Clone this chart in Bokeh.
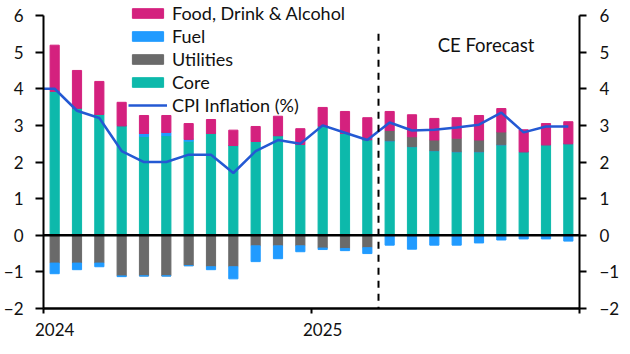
import numpy as np
from bokeh.plotting import figure
from bokeh.models import (Range1d, LinearAxis, FixedTicker, Span, Legend, LegendItem,
                          Label, ColumnDataSource)
from bokeh.embed import file_html
from bokeh.resources import INLINE

# ---------------- data ----------------
months = ["Jan-24", "Feb-24", "Mar-24", "Apr-24", "May-24", "Jun-24", "Jul-24", "Aug-24",
          "Sep-24", "Oct-24", "Nov-24", "Dec-24", "Jan-25", "Feb-25", "Mar-25", "Apr-25",
          "May-25", "Jun-25", "Jul-25", "Aug-25", "Sep-25", "Oct-25", "Nov-25", "Dec-25"]
core = [3.93, 3.47, 3.30, 2.99, 2.70, 2.72, 2.57, 2.78, 2.45, 2.56, 2.72, 2.48,
        2.98, 2.78, 2.61, 2.58, 2.42, 2.31, 2.28, 2.28, 2.47, 2.28, 2.47, 2.50]
utilities = [-0.76, -0.76, -0.76, -1.11, -1.11, -1.11, -0.83, -0.86, -0.86, -0.29, -0.29, -0.29,
             -0.35, -0.36, -0.34, 0.28, 0.27, 0.29, 0.37, 0.32, 0.35, 0.0, 0.0, 0.0]
fuel = [-0.29, -0.18, -0.10, -0.02, 0.08, 0.09, 0.05, -0.08, -0.33, -0.43, -0.35, -0.16,
        -0.04, -0.06, -0.16, -0.27, -0.38, -0.27, -0.27, -0.21, -0.13, -0.10, -0.10, -0.16]
food = [1.26, 1.03, 0.90, 0.64, 0.49, 0.46, 0.43, 0.38, 0.42, 0.41, 0.53, 0.43,
        0.51, 0.60, 0.60, 0.52, 0.60, 0.59, 0.56, 0.67, 0.64, 0.60, 0.58, 0.60]
# CPI inflation (%), Dec-23 then Jan-24 .. Dec-25
cpi = [4.0, 4.0, 3.4, 3.2, 2.3, 2.0, 2.0, 2.2, 2.2, 1.7, 2.3, 2.6, 2.5,
       3.0, 2.8, 2.6, 3.08, 2.86, 2.88, 2.94, 3.02, 3.35, 2.81, 2.97, 2.97]
year_labels = ["2024", "2025"]
forecast_start = 15  # forecast begins in Apr-25

# ---------------- styles ----------------
C_FOOD = "#D4217E"
C_FUEL = "#219BFF"
C_UTIL = "#6A6A6A"
C_CORE = "#0DB9AB"
C_CPI = "#2459D3"
FONT = "Lato"
FS = "17px"

n = len(months)
x = np.arange(n) + 0.5
core_a = np.array(core)
util_a = np.array(utilities)
fuel_a = np.array(fuel)
food_a = np.array(food)

fuel_pos = np.clip(fuel_a, 0, None)
fuel_neg = np.clip(fuel_a, None, 0)
util_pos = np.clip(util_a, 0, None)
util_neg = np.clip(util_a, None, 0)

b_core = np.zeros(n); t_core = core_a
b_fuelp = t_core; t_fuelp = b_fuelp + fuel_pos
b_utilp = t_fuelp; t_utilp = b_utilp + util_pos
b_food = t_utilp; t_food = b_food + food_a
t_utiln = np.zeros(n); b_utiln = util_neg
t_fueln = b_utiln; b_fueln = t_fueln + fuel_neg

src = ColumnDataSource(dict(x=x, b_core=b_core, t_core=t_core, b_fuelp=b_fuelp, t_fuelp=t_fuelp,
                            b_utilp=b_utilp, t_utilp=t_utilp, b_food=b_food, t_food=t_food,
                            b_utiln=b_utiln, t_utiln=t_utiln, b_fueln=b_fueln, t_fueln=t_fueln))

p = figure(width=630, height=354, output_backend="svg", toolbar_location=None,
           x_range=Range1d(0, n), y_range=Range1d(-2, 6.41),
           min_border_left=40, min_border_right=51, min_border_top=0, min_border_bottom=46)
p.outline_line_color = None
p.xgrid.visible = False
p.ygrid.visible = False
p.background_fill_color = "white"
p.border_fill_color = "white"

W = 0.41
r_core = p.vbar(x="x", bottom="b_core", top="t_core", width=W, color=C_CORE, source=src)
r_fuelp = p.vbar(x="x", bottom="b_fuelp", top="t_fuelp", width=W, color=C_FUEL, source=src)
r_utilp = p.vbar(x="x", bottom="b_utilp", top="t_utilp", width=W, color=C_UTIL, source=src)
r_food = p.vbar(x="x", bottom="b_food", top="t_food", width=W, color=C_FOOD, source=src)
r_utiln = p.vbar(x="x", bottom="b_utiln", top="t_utiln", width=W, color=C_UTIL, source=src)
r_fueln = p.vbar(x="x", bottom="b_fueln", top="t_fueln", width=W, color=C_FUEL, source=src)

cpi_x = np.arange(len(cpi)) - 0.5
r_cpi = p.line(cpi_x, cpi, line_color=C_CPI, line_width=2.5)

p.add_layout(Span(location=0, dimension="width", line_color="black", line_width=2.5))
p.segment(x0=[forecast_start], y0=[5.5], x1=[forecast_start], y1=[-2],
          line_color="black", line_width=2, line_dash="7 6")
p.add_layout(Label(x=17.65, y=5.19, text="CE Forecast", text_font=FONT, text_font_size="18.5px",
                   text_color="#111111", text_baseline="middle", text_align="left"))

yt = FixedTicker(ticks=list(range(-2, 7)))

def style_axis(ax):
    ax.axis_line_color = "black"
    ax.axis_line_width = 2
    ax.major_tick_line_color = "black"
    ax.major_tick_line_width = 2
    ax.major_tick_in = 0
    ax.minor_tick_line_color = None
    ax.major_label_text_font = FONT
    ax.major_label_text_font_size = FS
    ax.major_label_text_color = "#111111"

ly = p.yaxis[0]
ly.ticker = yt
ly.bounds = (-2, 6)
style_axis(ly)
ly.major_tick_out = 8
ly.major_label_standoff = 12

ry = LinearAxis(ticker=yt, bounds=(-2, 6))
style_axis(ry)
ry.major_tick_out = 7
ry.major_label_standoff = 13
p.add_layout(ry, "right")

bx = p.xaxis[0]
bx.ticker = FixedTicker(ticks=[0.5, 12.5], minor_ticks=[0, 12, 24])
style_axis(bx)
bx.axis_line_width = 2.5
bx.major_tick_line_color = None
bx.major_tick_out = 5
bx.minor_tick_line_color = "black"
bx.minor_tick_line_width = 2
bx.minor_tick_in = 0
bx.minor_tick_out = 5
bx.major_label_standoff = 9
bx.major_label_overrides = {0.5: year_labels[0], 12.5: year_labels[1]}

legend = Legend(items=[
    LegendItem(label="Food, Drink & Alcohol", renderers=[r_food]),
    LegendItem(label="Fuel", renderers=[r_fueln]),
    LegendItem(label="Utilities", renderers=[r_utiln]),
    LegendItem(label="Core", renderers=[r_core]),
    LegendItem(label="CPI Inflation (%)", renderers=[r_cpi]),
], location=(85, 192))
legend.background_fill_alpha = 0
legend.border_line_color = None
legend.padding = 0
legend.margin = 0
legend.spacing = 1
legend.glyph_width = 39
legend.glyph_height = 12
legend.label_height = 20
legend.label_standoff = 5
legend.label_text_font = FONT
legend.label_text_font_size = "18px"
legend.label_text_color = "#111111"
p.add_layout(legend, "center")

open("out.html", "w").write(file_html(p, INLINE))
